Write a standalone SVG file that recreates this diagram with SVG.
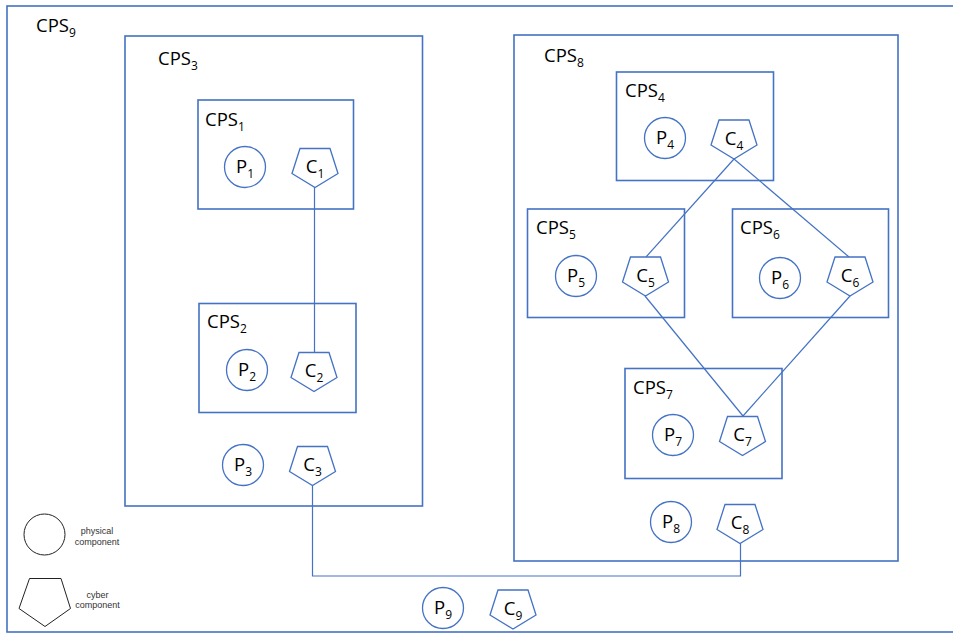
<svg xmlns="http://www.w3.org/2000/svg" xmlns:xlink="http://www.w3.org/1999/xlink" width="953" height="633" viewBox="0 0 953 633">
<style>
.box{fill:none;stroke:#4472C4;stroke-width:1.6}
.shape{fill:#fff;stroke:#4472C4;stroke-width:1.3}
.conn{fill:none;stroke:#4472C4;stroke-width:1.2}
.lbl{font-family:"Open Sans","Liberation Sans",sans-serif;font-size:18.5px;fill:#000}
.mid{text-anchor:middle}
.leg{fill:none;stroke:#222;stroke-width:1}
.legt{font-family:"Liberation Sans","Open Sans",sans-serif;font-size:9px;fill:#333;text-anchor:middle}
</style>
<defs>
<polygon id="pent" points="-15,0 15,0 23,25 0,39 -23,25"/>
</defs>
<rect width="953" height="633" fill="#fff"/>

<g id="cps9">
<rect class="box" x="7" y="6" width="960" height="626"/>
<text class="lbl" x="36" y="32">CPS<tspan font-size="12" dy="5">9</tspan></text>
</g>
<g id="cps3">
<rect class="box" x="125" y="36" width="297.5" height="470"/>
<text class="lbl" x="158" y="65">CPS<tspan font-size="12" dy="5">3</tspan></text>
</g>
<g id="cps1">
<rect class="box" x="198" y="100" width="155.5" height="109"/>
<text class="lbl" x="205" y="126">CPS<tspan font-size="12" dy="5">1</tspan></text>
</g>
<g id="cps2">
<rect class="box" x="199" y="303.5" width="157" height="109"/>
<text class="lbl" x="207" y="328">CPS<tspan font-size="12" dy="5">2</tspan></text>
</g>
<g id="cps8">
<rect class="box" x="514" y="35" width="384" height="526"/>
<text class="lbl" x="544" y="62">CPS<tspan font-size="12" dy="5">8</tspan></text>
</g>
<g id="cps4">
<rect class="box" x="616.5" y="72" width="157" height="108.5"/>
<text class="lbl" x="625" y="97">CPS<tspan font-size="12" dy="5">4</tspan></text>
</g>
<g id="cps5">
<rect class="box" x="527.5" y="209" width="157" height="108.5"/>
<text class="lbl" x="536" y="234">CPS<tspan font-size="12" dy="5">5</tspan></text>
</g>
<g id="cps6">
<rect class="box" x="732.5" y="209" width="156" height="108.5"/>
<text class="lbl" x="740" y="234">CPS<tspan font-size="12" dy="5">6</tspan></text>
</g>
<g id="cps7">
<rect class="box" x="625" y="368.5" width="157" height="110"/>
<text class="lbl" x="633" y="394">CPS<tspan font-size="12" dy="5">7</tspan></text>
</g>

<g id="connectors">
<line class="conn" x1="314.5" y1="187" x2="314.5" y2="352"/>
<line class="conn" x1="734" y1="159" x2="646" y2="257"/>
<line class="conn" x1="734" y1="159" x2="849" y2="257"/>
<line class="conn" x1="645" y1="296" x2="743" y2="416"/>
<line class="conn" x1="850" y1="296" x2="743" y2="416"/>
<polyline class="conn" points="312.5,485 312.5,576 740.5,576 740.5,543"/>
</g>

<g id="p1"><circle class="shape" cx="245" cy="167" r="20.5"/><text class="lbl mid" x="245" y="173">P<tspan font-size="12" dy="5">1</tspan></text></g>
<g id="c1"><use xlink:href="#pent" class="shape" transform="translate(315,148.5)"/><text class="lbl mid" x="315" y="173">C<tspan font-size="12" dy="5">1</tspan></text></g>
<g id="p2"><circle class="shape" cx="247" cy="370" r="20.5"/><text class="lbl mid" x="247" y="376">P<tspan font-size="12" dy="5">2</tspan></text></g>
<g id="c2"><use xlink:href="#pent" class="shape" transform="translate(314,352.5)"/><text class="lbl mid" x="314" y="377">C<tspan font-size="12" dy="5">2</tspan></text></g>
<g id="p3"><circle class="shape" cx="243" cy="465" r="20.5"/><text class="lbl mid" x="243" y="471">P<tspan font-size="12" dy="5">3</tspan></text></g>
<g id="c3"><use xlink:href="#pent" class="shape" transform="translate(312.5,446.5)"/><text class="lbl mid" x="312.5" y="471">C<tspan font-size="12" dy="5">3</tspan></text></g>
<g id="p4"><circle class="shape" cx="665" cy="138" r="20.5"/><text class="lbl mid" x="665" y="144">P<tspan font-size="12" dy="5">4</tspan></text></g>
<g id="c4"><use xlink:href="#pent" class="shape" transform="translate(734,120)"/><text class="lbl mid" x="734" y="145">C<tspan font-size="12" dy="5">4</tspan></text></g>
<g id="p5"><circle class="shape" cx="576" cy="276" r="20.5"/><text class="lbl mid" x="576" y="282">P<tspan font-size="12" dy="5">5</tspan></text></g>
<g id="c5"><use xlink:href="#pent" class="shape" transform="translate(645.5,257)"/><text class="lbl mid" x="645.5" y="282">C<tspan font-size="12" dy="5">5</tspan></text></g>
<g id="p6"><circle class="shape" cx="780" cy="278" r="20.5"/><text class="lbl mid" x="780" y="284">P<tspan font-size="12" dy="5">6</tspan></text></g>
<g id="c6"><use xlink:href="#pent" class="shape" transform="translate(850,257)"/><text class="lbl mid" x="850" y="282">C<tspan font-size="12" dy="5">6</tspan></text></g>
<g id="p7"><circle class="shape" cx="673" cy="435" r="20.5"/><text class="lbl mid" x="673" y="441">P<tspan font-size="12" dy="5">7</tspan></text></g>
<g id="c7"><use xlink:href="#pent" class="shape" transform="translate(742.5,416.5)"/><text class="lbl mid" x="742.5" y="441">C<tspan font-size="12" dy="5">7</tspan></text></g>
<g id="p8"><circle class="shape" cx="671" cy="522" r="20.5"/><text class="lbl mid" x="671" y="528">P<tspan font-size="12" dy="5">8</tspan></text></g>
<g id="c8"><use xlink:href="#pent" class="shape" transform="translate(740,504.5)"/><text class="lbl mid" x="740" y="529">C<tspan font-size="12" dy="5">8</tspan></text></g>
<g id="p9"><circle class="shape" cx="443" cy="608" r="20.5"/><text class="lbl mid" x="443" y="614">P<tspan font-size="12" dy="5">9</tspan></text></g>
<g id="c9"><use xlink:href="#pent" class="shape" transform="translate(513,590)"/><text class="lbl mid" x="513" y="615">C<tspan font-size="12" dy="5">9</tspan></text></g>

<g id="legend-physical">
<circle class="leg" cx="44.5" cy="534.5" r="20.5"/>
<text class="legt" x="97" y="534">physical</text>
<text class="legt" x="97" y="544.5">component</text>
</g>
<g id="legend-cyber">
<polygon class="leg" points="29.5,578.5 61,578.5 70.5,608.5 45,626.5 19,608.5"/>
<text class="legt" x="97.5" y="597.5">cyber</text>
<text class="legt" x="97.5" y="608">component</text>
</g>
</svg>
